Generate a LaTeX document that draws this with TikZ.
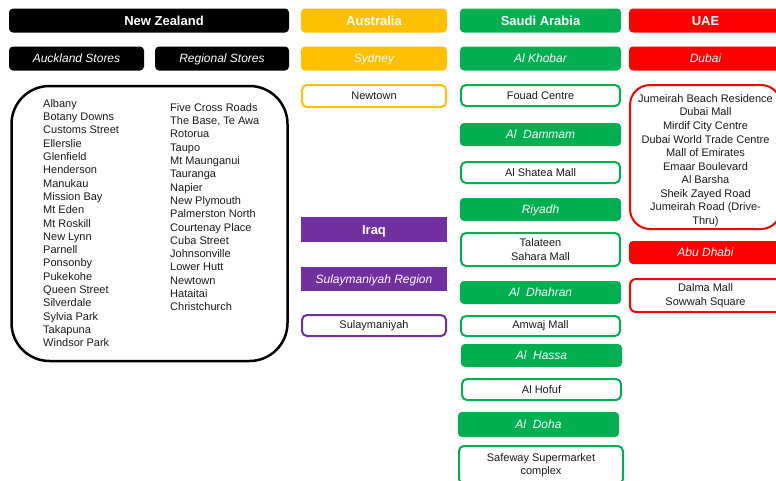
\documentclass[tikz,border=0pt]{standalone}
\usepackage{fontspec}
\setmainfont{Liberation Sans}
\definecolor{cOr}{HTML}{FFC000}
\definecolor{cGr}{HTML}{00B050}
\definecolor{cRd}{HTML}{FF0000}
\definecolor{cPu}{HTML}{7030A0}
\definecolor{cTx}{HTML}{1A1A1A}
\tikzset{
  hdr/.style={fill=#1, rounded corners=4pt, minimum height=24pt, inner sep=0pt, text=white,
    text height=9.3pt, text depth=0pt,
    font=\fontsize{13}{15}\selectfont\bfseries},
  subhdr/.style={fill=#1, rounded corners=4pt, minimum height=24pt, inner sep=0pt, text=white,
    text height=8.6pt, text depth=0pt,
    font=\fontsize{12}{14}\selectfont\itshape},
  itembox/.style={draw=#1, line width=2pt, fill=white, rounded corners=5pt, inner sep=0pt,
    text=cTx, align=center, font=\fontsize{11}{13.33}\selectfont},
  listtxt/.style={inner sep=0pt, anchor=north west, align=left, text=cTx,
    font=\fontsize{11}{13.33}\selectfont},
}
\begin{document}
\begin{tikzpicture}[x=1pt,y=-1pt]
\useasboundingbox (0,0) rectangle (776,480);
\clip (0,0) rectangle (776,480);

% ---------------- New Zealand ----------------
\node[hdr=black, minimum width=280pt] (nz) at (149,20.5) {\hspace*{30pt}New Zealand};
\node[subhdr=black, minimum width=135pt] (auck) at (76.5,58.5) {Auckland Stores};
\node[subhdr=black, minimum width=134pt] (reg) at (222,58.5) {Regional Stores};
\node[draw=black, line width=2.5pt, rounded corners=38pt, minimum width=276pt, minimum height=275pt, inner sep=0pt] (nzbox) at (149.5,223.5) {};
\node[listtxt] (nzA) at (43,97.5) {\strut Albany\\Botany Downs\\Customs Street\\Ellerslie\\Glenfield\\Henderson\\Manukau\\Mission Bay\\Mt Eden\\Mt Roskill\\New Lynn\\Parnell\\Ponsonby\\Pukekohe\\Queen Street\\Silverdale\\Sylvia Park\\Takapuna\\Windsor Park};
\node[listtxt] (nzB) at (170,101.5) {\strut Five Cross Roads\\The Base, Te Awa\\Rotorua\\Taupo\\Mt Maunganui\\Tauranga\\Napier\\New Plymouth\\Palmerston North\\Courtenay Place\\Cuba Street\\Johnsonville\\Lower Hutt\\Newtown\\Hataitai\\Christchurch};

% ---------------- Australia / Iraq ----------------
\node[hdr=cOr, minimum width=146pt] (aus) at (374,20.5) {Australia};
\node[subhdr=cOr, minimum width=146pt] (syd) at (374,58.5) {Sydney};
\node[itembox=cOr, minimum width=144pt, minimum height=22pt] (newtown) at (374,96) {Newtown};
\node[hdr=cPu, rounded corners=0pt, minimum width=146pt, minimum height=25pt] (iraq) at (374,229.5) {Iraq};
\node[subhdr=cPu, rounded corners=0pt, minimum width=146pt] (sulreg) at (374,279) {Sulaymaniyah Region};
\node[itembox=cPu, minimum width=144pt, minimum height=21pt] (sul) at (374,325.5) {Sulaymaniyah};

% ---------------- Saudi Arabia ----------------
\node[hdr=cGr, minimum width=161pt] (sa) at (540.5,20.5) {Saudi Arabia};
\node[subhdr=cGr, minimum width=161pt] (khobar) at (540.5,58.5) {Al Khobar};
\node[itembox=cGr, minimum width=159pt, minimum height=21pt] (fouad) at (540.5,95.5) {Fouad Centre};
\node[subhdr=cGr, minimum width=161pt, minimum height=23pt] (dammam) at (540.5,134.5) {Al\ \ Dammam};
\node[itembox=cGr, minimum width=159pt, minimum height=21pt] (shatea) at (540.5,172.5) {Al Shatea Mall};
\node[subhdr=cGr, minimum width=161pt, minimum height=23pt] (riyadh) at (540.5,209.5) {Riyadh};
\node[itembox=cGr, minimum width=159pt, minimum height=33pt] (talateen) at (540.5,249.5) {Talateen\\Sahara Mall};
\node[subhdr=cGr, minimum width=161pt, minimum height=23pt] (dhahran) at (540.5,292.5) {Al\ \ Dhahran};
\node[itembox=cGr, minimum width=159pt, minimum height=20pt] (amwaj) at (540.5,326) {Amwaj Mall};
\node[subhdr=cGr, minimum width=161pt, minimum height=23pt] (hassa) at (541.5,355.5) {Al\ \ Hassa};
\node[itembox=cGr, minimum width=159pt, minimum height=21pt] (hofuf) at (541.5,389.5) {Al Hofuf};
\node[subhdr=cGr, minimum width=161pt, minimum height=25pt] (doha) at (538.5,424.5) {Al\ \ Doha};
\node[itembox=cGr, minimum width=164pt, minimum height=38pt] (safeway) at (541,465) {Safeway Supermarket\\complex};

% ---------------- UAE ----------------
\node[hdr=cRd, minimum width=153pt] (uae) at (705.5,20.5) {UAE};
\node[subhdr=cRd, minimum width=153pt] (dubai) at (705.5,58.5) {Dubai};
\node[itembox=cRd, rounded corners=20pt, minimum width=151pt, minimum height=144pt] (dubailist) at (705.5,157) {};
\node[inner sep=0pt, align=center, text=cTx, font=\fontsize{11}{13.55}\selectfont] (dubaitxt) at (705.5,160.5) {Jumeirah Beach Residence\\Dubai Mall\\Mirdif City Centre\\Dubai World Trade Centre\\Mall of Emirates\\Emaar Boulevard\\Al Barsha\\Sheik Zayed Road\\Jumeirah Road (Drive-\\Thru)};
\node[subhdr=cRd, minimum width=153pt, minimum height=23pt] (abudhabi) at (705.5,252.5) {Abu Dhabi};
\node[itembox=cRd, rounded corners=6pt, minimum width=151pt, minimum height=33pt] (dalma) at (705.5,295.5) {Dalma Mall\\Sowwah Square};
\end{tikzpicture}
\end{document}
